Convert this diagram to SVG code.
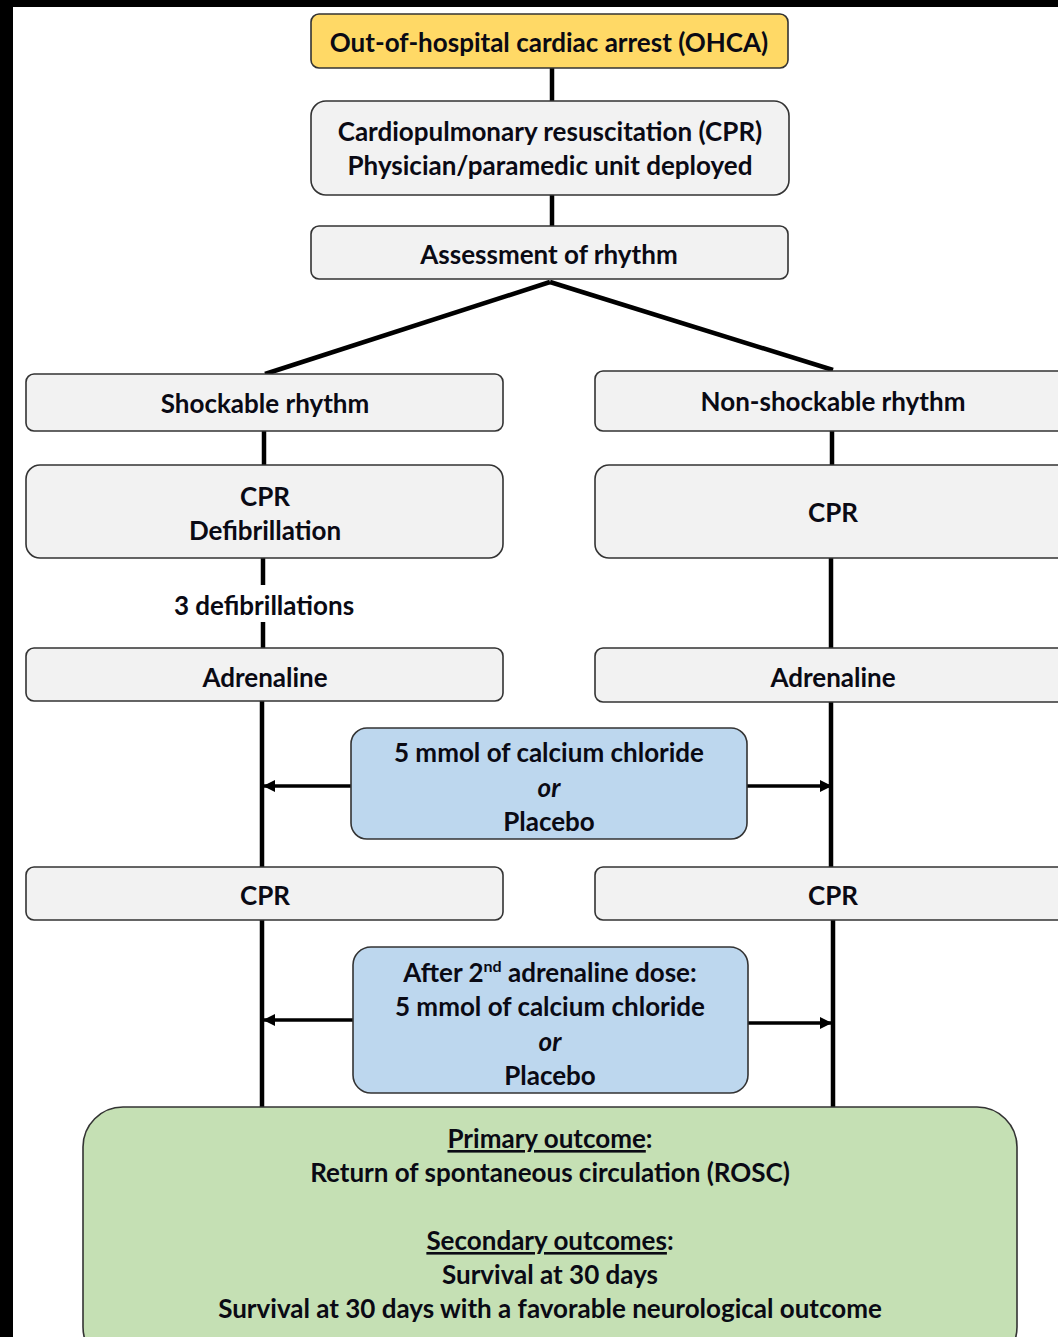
<svg xmlns="http://www.w3.org/2000/svg" width="1058" height="1337" viewBox="0 0 1058 1337">
<defs>
<style>
.bx{fill:#F2F2F2;stroke:#333;stroke-width:1.6}
.yl{fill:#FFD966;stroke:#333;stroke-width:1.6}
.bl{fill:#BDD7EE;stroke:#333;stroke-width:1.6}
.gr{fill:#C5E0B4;stroke:#333;stroke-width:1.6}
.t{font-family:Lato,"Open Sans","Liberation Sans",sans-serif;font-weight:bold;font-size:26px;fill:#0a0a14;text-anchor:middle}
.c{stroke:#000;stroke-width:4.5;fill:none}
.a{stroke:#000;stroke-width:3.5;fill:none;marker-end:url(#ah)}
</style>
<marker id="ah" markerWidth="12" markerHeight="12" refX="11" refY="6" orient="auto" markerUnits="userSpaceOnUse">
<path d="M0,0 L12,6 L0,12 Z" fill="#000"/>
</marker>
</defs>
<rect x="0" y="0" width="1058" height="1337" fill="#fff"/>
<rect x="0" y="0" width="13" height="1337" fill="#000"/>
<rect x="0" y="0" width="1058" height="7" fill="#000"/>

<g id="connectors">
<line class="c" x1="552" y1="68" x2="552" y2="101"/>
<line class="c" x1="552" y1="195" x2="552" y2="226"/>
<line class="c" x1="550" y1="282" x2="265" y2="374"/>
<line class="c" x1="550" y1="282" x2="833" y2="370"/>
<line class="c" x1="264" y1="431" x2="264" y2="465"/>
<line class="c" x1="832" y1="431" x2="832" y2="465"/>
<line class="c" x1="263" y1="558" x2="263" y2="585"/>
<line class="c" x1="263" y1="622" x2="263" y2="648"/>
<line class="c" x1="831" y1="558" x2="831" y2="648"/>
<line class="c" x1="262" y1="701" x2="262" y2="868"/>
<line class="c" x1="831" y1="702" x2="831" y2="868"/>
<line class="c" x1="262" y1="920" x2="262" y2="1108"/>
<line class="c" x1="833" y1="920" x2="833" y2="1108"/>
<line class="a" x1="351" y1="786" x2="264" y2="786"/>
<line class="a" x1="747" y1="786" x2="831" y2="786"/>
<line class="a" x1="353" y1="1020" x2="264" y2="1020"/>
<line class="a" x1="748" y1="1023" x2="831" y2="1023"/>
<text class="t" x="264" y="615">3 defibrillations</text>
</g>

<g id="ohca">
<rect class="yl" x="311" y="14" width="477" height="54" rx="8"/>
<text class="t" x="549" y="52">Out-of-hospital cardiac arrest (OHCA)</text>
</g>
<g id="cpr-top">
<rect class="bx" x="311" y="101" width="478" height="94" rx="15"/>
<text class="t" x="550" y="141">Cardiopulmonary resuscitation (CPR)</text>
<text class="t" x="550" y="175">Physician/paramedic unit deployed</text>
</g>
<g id="assessment">
<rect class="bx" x="311" y="226" width="477" height="53" rx="8"/>
<text class="t" x="549" y="264">Assessment of rhythm</text>
</g>
<g id="shockable">
<rect class="bx" x="26" y="374" width="477" height="57" rx="8"/>
<text class="t" x="265" y="413">Shockable rhythm</text>
</g>
<g id="nonshockable">
<rect class="bx" x="595" y="371" width="480" height="60" rx="8"/>
<text class="t" x="833" y="411">Non-shockable rhythm</text>
</g>
<g id="cpr-defib">
<rect class="bx" x="26" y="465" width="477" height="93" rx="14"/>
<text class="t" x="265" y="506">CPR</text>
<text class="t" x="265" y="540">Defibrillation</text>
</g>
<g id="cpr-right">
<rect class="bx" x="595" y="465" width="480" height="93" rx="14"/>
<text class="t" x="833" y="522">CPR</text>
</g>
<g id="adrenaline-left">
<rect class="bx" x="26" y="648" width="477" height="53" rx="8"/>
<text class="t" x="265" y="687">Adrenaline</text>
</g>
<g id="adrenaline-right">
<rect class="bx" x="595" y="648" width="480" height="54" rx="8"/>
<text class="t" x="833" y="687">Adrenaline</text>
</g>
<g id="calcium1">
<rect class="bl" x="351" y="728" width="396" height="111" rx="16"/>
<text class="t" x="549" y="762">5 mmol of calcium chloride</text>
<text class="t" x="549" y="797" font-style="italic">or</text>
<text class="t" x="549" y="831">Placebo</text>
</g>
<g id="cpr-left2">
<rect class="bx" x="26" y="867" width="477" height="53" rx="8"/>
<text class="t" x="265" y="905">CPR</text>
</g>
<g id="cpr-right2">
<rect class="bx" x="595" y="867" width="480" height="53" rx="8"/>
<text class="t" x="833" y="905">CPR</text>
</g>
<g id="calcium2">
<rect class="bl" x="353" y="947" width="395" height="146" rx="18"/>
<text class="t" x="550" y="982">After 2<tspan font-size="16" dy="-10">nd</tspan><tspan dy="10"> adrenaline dose:</tspan></text>
<text class="t" x="550" y="1016">5 mmol of calcium chloride</text>
<text class="t" x="550" y="1051" font-style="italic">or</text>
<text class="t" x="550" y="1085">Placebo</text>
</g>
<g id="outcomes">
<rect class="gr" x="83" y="1107" width="934" height="260" rx="40"/>
<text class="t" x="550" y="1148"><tspan text-decoration="underline">Primary outcome</tspan>:</text>
<text class="t" x="550" y="1182">Return of spontaneous circulation (ROSC)</text>
<text class="t" x="550" y="1250"><tspan text-decoration="underline">Secondary outcomes</tspan>:</text>
<text class="t" x="550" y="1284">Survival at 30 days</text>
<text class="t" x="550" y="1318">Survival at 30 days with a favorable neurological outcome</text>
</g>
</svg>
